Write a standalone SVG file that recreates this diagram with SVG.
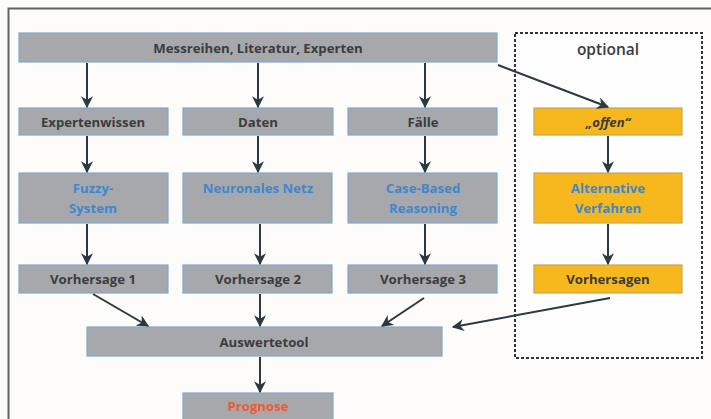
<svg xmlns="http://www.w3.org/2000/svg" width="711" height="419" viewBox="0 0 711 419">
<defs>
<marker id="ah" viewBox="0 0 10 10" refX="9" refY="5" markerWidth="6" markerHeight="6" orient="auto" markerUnits="strokeWidth">
<path d="M0,0 L10,5 L0,10 L3,5 z" fill="#2b3a40"/>
</marker>
<style>
.g{fill:#a7a8ab;stroke:#7fa9d3;stroke-width:1.2}
.o{fill:#f6b81d;stroke:#c9a55a;stroke-width:1.2}
text{font-family:"Open Sans","Liberation Sans",sans-serif;font-weight:bold;font-size:13.2px;text-anchor:middle}
.d{fill:#3a3c3e}
.b{fill:#3d87cf}
.r{fill:#ee5a2e}
.c line{stroke:#2b3a40;stroke-width:2;fill:none;marker-end:url(#ah)}
</style>
</defs>
<rect width="711" height="419" fill="#fdfcfb"/>
<path d="M8.5,419 V8.5 H711" fill="none" stroke="#626262" stroke-width="2"/>
<g id="optional">
<rect x="515" y="33" width="187" height="325" fill="#fefefe" stroke="#2f3437" stroke-width="2" stroke-dasharray="3,2"/>
<text x="608" y="55" class="d" style="font-weight:600;font-size:15.5px">optional</text>
</g>
<g id="messreihen"><rect class="g" x="19" y="33" width="478" height="29"/><text x="258" y="52.5" class="d">Messreihen, Literatur, Experten</text></g>
<g id="expertenwissen"><rect class="g" x="19" y="108" width="149" height="27"/><text x="93" y="126.5" class="d">Expertenwissen</text></g>
<g id="daten"><rect class="g" x="183" y="108" width="150" height="27"/><text x="258" y="126.5" class="d">Daten</text></g>
<g id="faelle"><rect class="g" x="348" y="108" width="149" height="27"/><text x="423" y="126.5" class="d">Fälle</text></g>
<g id="offen"><rect class="o" x="534" y="108" width="148" height="27"/><text x="608" y="126.5" class="d" style="font-style:italic">„offen“</text></g>
<g id="fuzzy"><rect class="g" x="19" y="173" width="149" height="50"/><text x="93" y="193" class="b">Fuzzy-</text><text x="93" y="213" class="b">System</text></g>
<g id="neuronal"><rect class="g" x="183" y="173" width="149" height="50"/><text x="258" y="193" class="b">Neuronales Netz</text></g>
<g id="cbr"><rect class="g" x="348" y="173" width="149" height="50"/><text x="423" y="193" class="b">Case-Based</text><text x="423" y="213" class="b">Reasoning</text></g>
<g id="alternative"><rect class="o" x="534" y="173" width="148" height="50"/><text x="608" y="193" class="b">Alternative</text><text x="608" y="213" class="b">Verfahren</text></g>
<g id="vorhersage1"><rect class="g" x="19" y="265" width="149" height="28"/><text x="93" y="283.5" class="d">Vorhersage 1</text></g>
<g id="vorhersage2"><rect class="g" x="183" y="265" width="149" height="28"/><text x="258" y="283.5" class="d">Vorhersage 2</text></g>
<g id="vorhersage3"><rect class="g" x="348" y="265" width="149" height="28"/><text x="423" y="283.5" class="d">Vorhersage 3</text></g>
<g id="vorhersagen"><rect class="o" x="534" y="265" width="148" height="28"/><text x="608" y="283.5" class="d">Vorhersagen</text></g>
<g id="auswertetool"><rect class="g" x="87" y="327" width="355" height="29"/><text x="264" y="346.5" class="d">Auswertetool</text></g>
<g id="prognose"><rect class="g" x="183" y="393" width="150" height="30"/><text x="258" y="411" class="r">Prognose</text></g>
<g class="c" id="connectors">
<line x1="87" y1="63" x2="87" y2="107"/>
<line x1="258" y1="63" x2="258" y2="107"/>
<line x1="425" y1="63" x2="425" y2="107"/>
<line x1="498" y1="65" x2="608" y2="107"/>
<line x1="87" y1="136" x2="87" y2="172"/>
<line x1="258" y1="136" x2="258" y2="172"/>
<line x1="425" y1="136" x2="425" y2="172"/>
<line x1="608" y1="136" x2="608" y2="172"/>
<line x1="87" y1="224" x2="87" y2="264"/>
<line x1="260" y1="224" x2="260" y2="264"/>
<line x1="425" y1="224" x2="425" y2="264"/>
<line x1="608" y1="224" x2="608" y2="264"/>
<line x1="93" y1="294" x2="148" y2="326"/>
<line x1="260" y1="294" x2="260" y2="326"/>
<line x1="424" y1="298" x2="382" y2="326"/>
<line x1="610" y1="298" x2="453" y2="327"/>
<line x1="260" y1="357" x2="260" y2="392"/>
</g>
</svg>
